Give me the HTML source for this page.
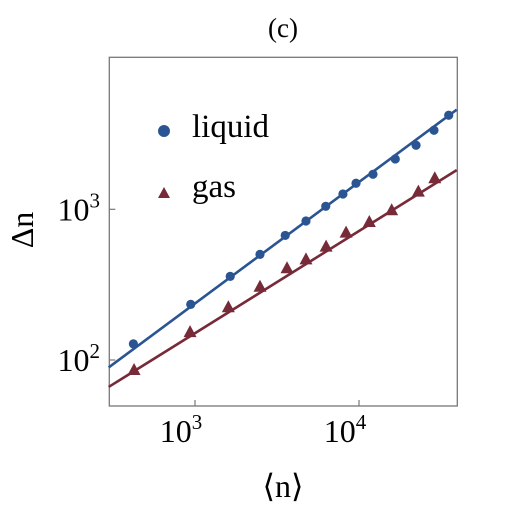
<!DOCTYPE html>
<html><head><meta charset="utf-8"><style>
body{margin:0;background:#fff;width:511px;height:511px;overflow:hidden}
text{font-family:"Liberation Serif","DejaVu Serif","Times New Roman",serif}
</style></head><body>
<svg width="511" height="511" font-family="'Liberation Serif','DejaVu Serif',serif">
<text x="283" y="37" font-size="27" text-anchor="middle">(c)</text>
<rect x="109.3" y="57.3" width="348" height="348.7" fill="none" stroke="#777" stroke-width="1.3"/>
<g id="ticks"></g>
<g id="series"></g>
<text transform="translate(33,230) rotate(-90)" font-size="32" text-anchor="middle">Δn</text>
<text x="283" y="497" font-size="32" text-anchor="middle">⟨n⟩</text>
<circle cx="164" cy="131" r="6" fill="#2a5592"/>
<text x="192" y="137" font-size="33">liquid</text>
<polygon points="164,187 170,198 158,198" fill="#772a38"/>
<text x="192" y="197" font-size="33">gas</text>
</svg>
<script>
const liquidX=[421,942,1640,2490,3550,4750,6270,7980,9590,12170,16640,22280,28650,35240];
const liquidY=[128,234,359,502,671,836,1047,1264,1489,1707,2158,2660,3345,4206];
const gasX=[425,933,1597,2490,3640,4750,6300,8340,11560,15820,23010,28980];
const gasY=[85.9,153,224,306,406,465,565,700,824,985,1309,1607];
const liquidFit=[0.906,0.806];
const gasFit=[1.393,0.678];
const xTicks=[1000,10000];
const yTicks=[100,1000];
const xMin=Math.pow(10,2.4737),xMax=Math.pow(10,4.5957);
const L=109.3,R=457.3,T=57.3,B=406;
const sx=v=>195+(Math.log10(v)-3)*164;
const sy=v=>209.3-(Math.log10(v)-3)*150.7;
const NS="http://www.w3.org/2000/svg";
const ticks=document.getElementById('ticks'),ser=document.getElementById('series');
function mk(tag,at,parent){const e=document.createElementNS(NS,tag);for(const k in at)e.setAttribute(k,at[k]);parent.appendChild(e);return e;}
xTicks.forEach(v=>{
 const l=mk('line',{x1:sx(v),x2:sx(v),y1:B,y2:B-6,stroke:'#777','stroke-width':1.2},ticks);
 
 
 const t=mk('text',{x:sx(v)-14,y:442,'font-size':32,'text-anchor':'middle'},ticks);
 
 
 t.innerHTML='10<tspan dy="-13" font-size="21">'+Math.round(Math.log10(v))+'</tspan>';
});
yTicks.forEach(v=>{
 const l=mk('line',{x1:L,x2:L+6,y1:sy(v),y2:sy(v),stroke:'#777','stroke-width':1.2},ticks);
 
 
 const t=mk('text',{x:100,y:sy(v)+11,'font-size':32,'text-anchor':'end'},ticks);
 
 
 t.innerHTML='10<tspan dy="-13" font-size="21">'+Math.round(Math.log10(v))+'</tspan>';
});
function fit(p,color,name){
 const f=x=>p[0]*Math.pow(x,p[1]);
 const l=mk('line',{x1:sx(xMin),y1:sy(f(xMin)),x2:sx(xMax),y2:sy(f(xMax)),stroke:color,'stroke-width':2.6},ser);
 
 
}
fit(liquidFit,'#2a5592','liquid-fit-line');
fit(gasFit,'#772a38','gas-fit-line');
liquidX.forEach((x,i)=>{
 const c=mk('circle',{cx:sx(x),cy:sy(liquidY[i]),r:4.6,fill:'#2a5592'},ser);
 
 
});
gasX.forEach((x,i)=>{
 const cx=sx(x),cy=sy(gasY[i]);
 const p=mk('polygon',{points:`${cx},${cy-7} ${cx+6.5},${cy+5} ${cx-6.5},${cy+5}`,fill:'#772a38'},ser);
 
 
});
</script>
</body></html>
